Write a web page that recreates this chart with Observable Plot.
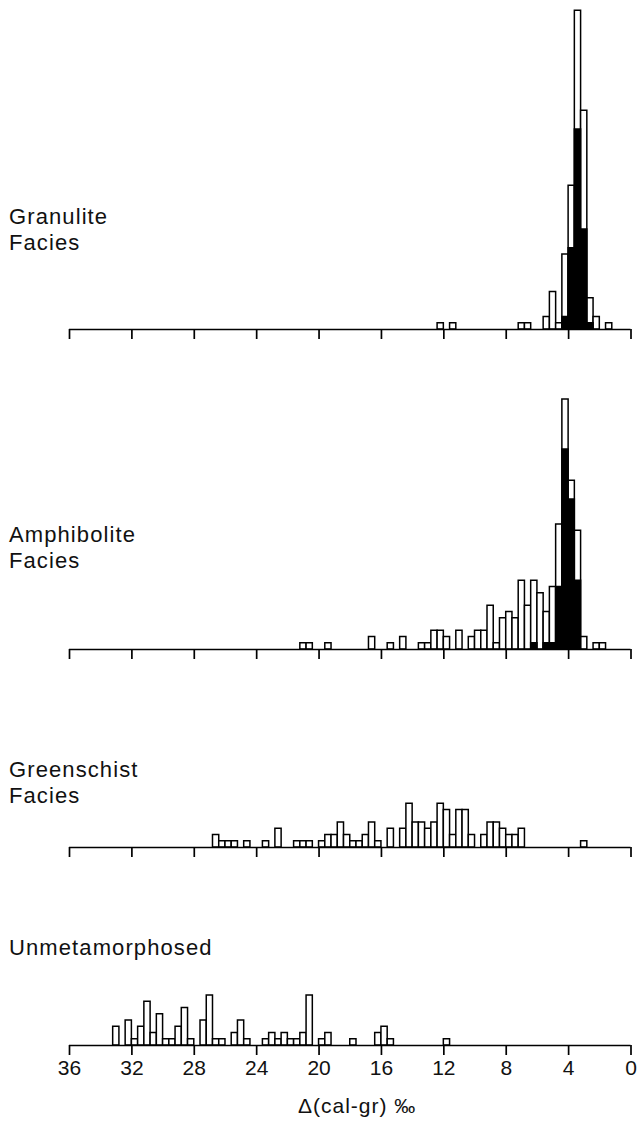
<!DOCTYPE html>
<html><head><meta charset="utf-8">
<script src="https://cdn.jsdelivr.net/npm/d3@7"></script>
<script src="https://cdn.jsdelivr.net/npm/@observablehq/plot@0.6"></script>
<style>
html,body{margin:0;padding:0;background:#fff;}
#chart{position:relative;width:638px;height:1130px;font-family:"Liberation Sans",Arial,Helvetica,sans-serif;overflow:hidden;}
.panel{position:absolute;left:0;}
.lab{position:absolute;left:9px;font-size:22px;line-height:25.5px;letter-spacing:1.1px;color:#111;white-space:pre;}
.xt{position:absolute;left:298px;font-size:21px;line-height:24px;letter-spacing:1px;color:#111;white-space:pre;}
</style></head><body><div id="chart"></div>
<script>
// ---- data (bin lower edge in ‰, bin width 0.4) ----
const binWidth = 0.4;
const xTicks = [36, 32, 28, 24, 20, 16, 12, 8, 4, 0];
const xTitle = "Δ(cal-gr) ‰";

const granuliteLabel = "Granulite\nFacies";
const granuliteLo    = [12.0, 11.2, 6.8, 6.4, 5.2, 4.8, 4.4, 4.0, 3.6, 3.2, 2.8, 2.4, 2.0, 1.2];
const granuliteAll   = [1,    1,    1,   1,   2,   6,   1,   12,  23,  51,  35,  5,   2,   1];
const granuliteBlack = [0,    0,    0,   0,   0,   0,   0,   2,   13,  32,  16,  1,   0,   0];

const amphiboliteLabel = "Amphibolite\nFacies";
const amphiboliteLo    = [20.8, 20.4, 19.2, 16.4, 15.2, 14.4, 13.2, 12.8, 12.4, 12.0, 11.6, 10.8, 10.0, 9.6, 9.2, 8.8, 8.4, 8.0, 7.6, 7.2, 6.8, 6.4, 6.0, 5.6, 5.2, 4.8, 4.4, 4.0, 3.6, 3.2, 2.8, 2.0, 1.6];
const amphiboliteAll   = [1,    1,    1,    2,    1,    2,    1,    1,    3,    3,    2,    3,    2,    3,   3,   7,   1,   5,   6,   5,   11,  7,   11,  9,   6,   10,  20,  40,  27,  19,  2,   1,   1];
const amphiboliteBlack = [0,    0,    0,    0,    0,    0,    0,    0,    0,    0,    0,    0,    0,    0,   0,   0,   0,   0,   0,   0,   0,   0,   1,   0,   1,   1,   10,  32,  24,  11,  0,   0,   0];

const greenschistLabel = "Greenschist\nFacies";
const greenschistLo  = [26.4, 26.0, 25.6, 25.2, 24.4, 23.2, 22.4, 21.2, 20.8, 20.4, 19.6, 19.2, 18.8, 18.4, 18.0, 17.6, 17.2, 16.8, 16.4, 16.0, 15.2, 14.4, 14.0, 13.6, 13.2, 12.8, 12.4, 12.0, 11.6, 11.2, 10.8, 10.4, 10.0, 9.2, 8.8, 8.4, 8.0, 7.6, 7.2, 6.8, 2.8];
const greenschistAll = [2,    1,    1,    1,    1,    1,    3,    1,    1,    1,    1,    2,    2,    4,    2,    1,    1,    2,    4,    1,    3,    3,    7,    4,    4,    3,    4,    7,    6,    2,    6,    6,    2,    2,   4,   4,   3,   2,   2,   3,   1];

const unmetLabel = "Unmetamorphosed";
const unmetLo  = [32.8, 32.0, 31.6, 31.2, 30.8, 30.4, 30.0, 29.6, 29.2, 28.8, 28.4, 28.0, 27.2, 26.8, 26.4, 26.0, 25.2, 24.8, 24.4, 23.2, 22.8, 22.4, 22.0, 21.6, 21.2, 20.8, 20.4, 19.6, 19.2, 17.6, 16.0, 15.6, 15.2, 11.6];
const unmetAll = [3,    4,    1,    3,    7,    2,    5,    1,    1,    3,    6,    1,    4,    8,    1,    1,    2,    4,    1,    1,    2,    1,    2,    1,    1,    2,    8,    1,    2,    1,    2,    3,    1,    1];

// ---- layout ----
const W = 638, unit = 6.25;
const chart = document.getElementById("chart");
const panels = [
  {label: granuliteLabel,   labelTop: 204, lo: granuliteLo,   all: granuliteAll,   black: granuliteBlack,   top: 0,   baseline: 329,  mb: 12, tickLabels: false},
  {label: amphiboliteLabel, labelTop: 522, lo: amphiboliteLo, all: amphiboliteAll, black: amphiboliteBlack, top: 341, baseline: 649,  mb: 12, tickLabels: false},
  {label: greenschistLabel, labelTop: 757, lo: greenschistLo, all: greenschistAll, black: null,             top: 661, baseline: 847,  mb: 12, tickLabels: false},
  {label: unmetLabel,       labelTop: 935, lo: unmetLo,       all: unmetAll,       black: null,             top: 859, baseline: 1045, mb: 40, tickLabels: true}
];

for (const p of panels) {
  const data = p.lo.map((v, i) => ({
    lo: v, hi: Math.round((v + binWidth) * 10) / 10,
    n: p.all[i], b: p.black ? p.black[i] : 0, z: 0
  }));
  const H = p.baseline - p.top + p.mb;
  const marks = [
    Plot.rect(data, {x1: "lo", x2: "hi", y1: "z", y2: "n", fill: "white", stroke: "#000", strokeWidth: 1.5}),
  ];
  if (p.black) {
    marks.push(Plot.rect(data.filter(d => d.b > 0), {x1: "lo", x2: "hi", y1: "z", y2: "b", fill: "#000", stroke: "#000", strokeWidth: 1.5}));
  }
  marks.push(Plot.ruleY([0], {stroke: "#000", strokeWidth: 1.7}));
  marks.push(Plot.axisX({
    ticks: xTicks, tickSize: 10, tickPadding: 5, strokeWidth: 1.7, stroke: "#000",
    tickFormat: p.tickLabels ? (d => String(d)) : (() => ""),
    fontSize: 21, fill: "#111", label: null
  }));
  const svg = Plot.plot({
    width: W, height: H,
    marginLeft: 69, marginRight: 7.5, marginTop: 0, marginBottom: p.mb,
    x: {domain: [36, 0]},
    y: {domain: [0, (p.baseline - p.top) / unit], axis: null},
    style: {fontFamily: "'Liberation Sans', Arial, sans-serif", fontSize: "21px", background: "transparent", overflow: "visible"},
    marks
  });
  svg.classList.add("panel");
  svg.style.top = p.top + "px";
  chart.appendChild(svg);

  const lab = document.createElement("div");
  lab.className = "lab";
  lab.style.top = p.labelTop + "px";
  lab.textContent = p.label;
  chart.appendChild(lab);
}

const xt = document.createElement("div");
xt.className = "xt";
xt.style.top = "1094px";
xt.textContent = xTitle;
chart.appendChild(xt);
</script>
</body></html>
